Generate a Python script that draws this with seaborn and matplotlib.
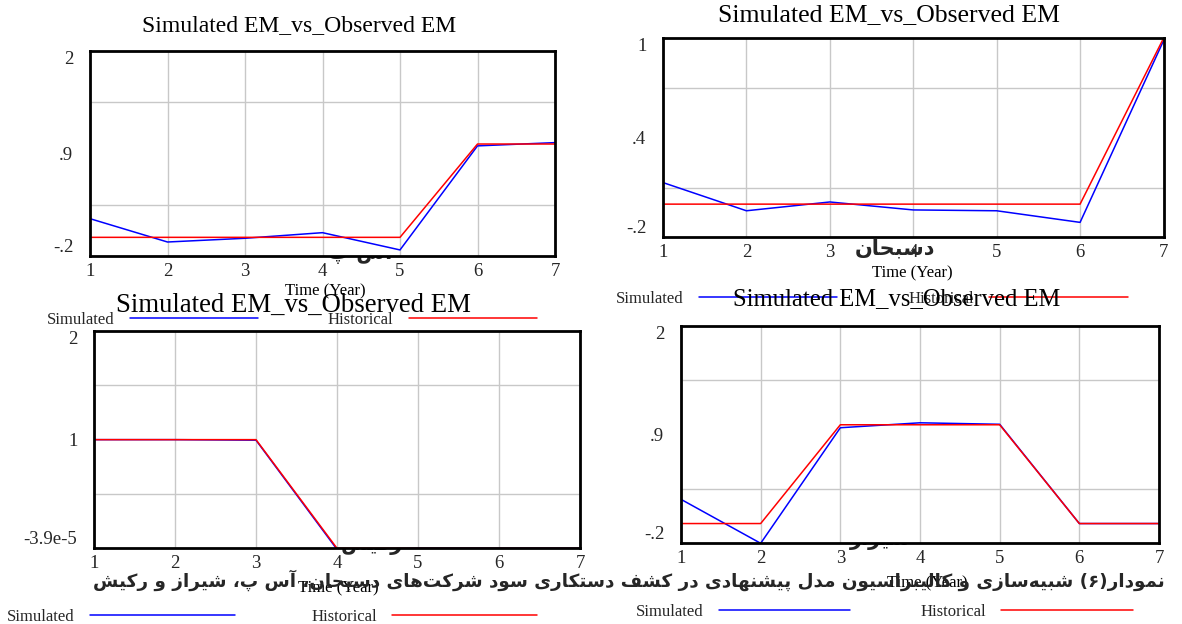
import matplotlib
matplotlib.use("Agg")
import matplotlib.pyplot as plt
import seaborn as sns
import pandas as pd

sns.set_theme(style="white")
plt.rcParams['font.family'] = ['Liberation Serif', 'DejaVu Sans']

# ---------------- data ----------------
years = [1, 2, 3, 4, 5, 6, 7]
tl_sim = [0.20, -0.05, -0.01, 0.05, -0.135, 0.98, 1.015]
tl_hist = [0.0, 0.0, 0.0, 0.0, 0.0, 1.0, 1.0]
tr_sim = [0.13, -0.04, 0.013, -0.035, -0.04, -0.11, 0.985]
tr_hist = [0.0, 0.0, 0.0, 0.0, 0.0, 0.0, 1.0]
bl_sim = [1.0, 1.0, 0.995, -0.01, 0.0, 0.0, 0.0]
bl_hist = [1.0, 1.0, 1.0, 0.0, 0.0, 0.0, 0.0]
br_sim = [0.245, -0.2, 0.97, 1.02, 1.005, 0.0, 0.0]
br_hist = [0.0, 0.0, 1.0, 1.0, 1.0, 0.0, 0.0]

tl_yticks = [-0.2, 0.9, 2.0]
tl_ylabels = ["-.2", ".9", "2"]
tr_yticks = [-0.2, 0.4, 1.0]
tr_ylabels = ["-.2", ".4", "1"]
bl_yticks = [-3.9e-5, 1.0, 2.0]
bl_ylabels = ["-3.9e-5", "1", "2"]
br_yticks = [-0.2, 0.9, 2.0]
br_ylabels = ["-.2", ".9", "2"]

title_text = "Simulated EM_vs_Observed EM"
xlabel_text = "Time (Year)"
series_names = ["Simulated", "Historical"]
caption = "نمودار(۶) شبیه\u200cسازی و کالیبراسیون مدل پیشنهادی در کشف دستکاری سود شرکت\u200cهای دسبحان، آس پ، شیراز و رکیش"
company_tr = "دسبحان"
company_tl = "آس پ"
company_bl = "رکیش"
company_br = "شیراز"

# ---------------- minimal Arabic/Persian shaping ----------------
FORMS = {
    'ا': (0xFE8D, 0xFE8E, None, None), 'آ': (0xFE81, 0xFE82, None, None),
    'ب': (0xFE8F, 0xFE90, 0xFE91, 0xFE92), 'پ': (0xFB56, 0xFB57, 0xFB58, 0xFB59),
    'ت': (0xFE95, 0xFE96, 0xFE97, 0xFE98), 'ث': (0xFE99, 0xFE9A, 0xFE9B, 0xFE9C),
    'ج': (0xFE9D, 0xFE9E, 0xFE9F, 0xFEA0), 'چ': (0xFB7A, 0xFB7B, 0xFB7C, 0xFB7D),
    'ح': (0xFEA1, 0xFEA2, 0xFEA3, 0xFEA4), 'خ': (0xFEA5, 0xFEA6, 0xFEA7, 0xFEA8),
    'د': (0xFEA9, 0xFEAA, None, None), 'ذ': (0xFEAB, 0xFEAC, None, None),
    'ر': (0xFEAD, 0xFEAE, None, None), 'ز': (0xFEAF, 0xFEB0, None, None),
    'ژ': (0xFB8A, 0xFB8B, None, None),
    'س': (0xFEB1, 0xFEB2, 0xFEB3, 0xFEB4), 'ش': (0xFEB5, 0xFEB6, 0xFEB7, 0xFEB8),
    'ص': (0xFEB9, 0xFEBA, 0xFEBB, 0xFEBC), 'ض': (0xFEBD, 0xFEBE, 0xFEBF, 0xFEC0),
    'ط': (0xFEC1, 0xFEC2, 0xFEC3, 0xFEC4), 'ظ': (0xFEC5, 0xFEC6, 0xFEC7, 0xFEC8),
    'ع': (0xFEC9, 0xFECA, 0xFECB, 0xFECC), 'غ': (0xFECD, 0xFECE, 0xFECF, 0xFED0),
    'ف': (0xFED1, 0xFED2, 0xFED3, 0xFED4), 'ق': (0xFED5, 0xFED6, 0xFED7, 0xFED8),
    'ک': (0xFB8E, 0xFB8F, 0xFB90, 0xFB91), 'گ': (0xFB92, 0xFB93, 0xFB94, 0xFB95),
    'ل': (0xFEDD, 0xFEDE, 0xFEDF, 0xFEE0), 'م': (0xFEE1, 0xFEE2, 0xFEE3, 0xFEE4),
    'ن': (0xFEE5, 0xFEE6, 0xFEE7, 0xFEE8), 'ه': (0xFEE9, 0xFEEA, 0xFEEB, 0xFEEC),
    'و': (0xFEED, 0xFEEE, None, None), 'ی': (0xFBFC, 0xFBFD, 0xFBFE, 0xFBFF),
}
MIRROR = {'(': ')', ')': '('}


def shape(text):
    out = []
    n = len(text)
    for i, c in enumerate(text):
        if c not in FORMS:
            if c != '\u200c':
                out.append(MIRROR.get(c, c))
            continue
        prev = text[i - 1] if i > 0 else None
        nxt = text[i + 1] if i + 1 < n else None
        jp = prev in FORMS and FORMS[prev][2] is not None
        jn = FORMS[c][2] is not None and nxt in FORMS
        iso, fin, ini, med = FORMS[c]
        if jp and jn:
            g = med
        elif jp:
            g = fin
        elif jn:
            g = ini
        else:
            g = iso
        out.append(chr(g))
    return ''.join(reversed(out))


# ---------------- figure ----------------
W, H = 1182, 624
fig = plt.figure(figsize=(W / 100, H / 100), dpi=100)


def fx(x):
    return x / W


def fy(y):
    return 1 - y / H


def make_axes(box, sim, hist, yticks, ylabels, title_c, title_fs, xlab_c, leg):
    x0, y0, x1, y1 = box
    ax = fig.add_axes([fx(x0), fy(y1), (x1 - x0) / W, (y1 - y0) / H])
    ax.set_facecolor('white')
    df = pd.DataFrame({'year': years, 'sim': sim, 'hist': hist})
    sns.lineplot(data=df, x='year', y='sim', color='#0000ff', lw=1.1,
                 label=series_names[0], ax=ax)
    sns.lineplot(data=df, x='year', y='hist', color='#ff0000', lw=1.1,
                 label=series_names[1], ax=ax)
    lo, mid, hi = yticks
    ax.set_xlim(1, 7)
    ax.set_ylim(lo, hi)
    ax.set_xticks(years)
    ax.set_xticklabels([str(v) for v in years], fontsize=13.5)
    ax.set_yticks(yticks)
    ax.set_yticklabels(ylabels, fontsize=13.5)
    q = (hi - lo) / 4
    ax.set_yticks([lo + q, lo + 2 * q, lo + 3 * q], minor=True)
    ax.grid(False)
    ax.grid(True, axis='x', which='major', color='#c8c8c8', lw=1.0)
    ax.grid(True, axis='y', which='minor', color='#c8c8c8', lw=1.0)
    ax.tick_params(axis='both', which='both', length=0)
    ax.tick_params(axis='y', pad=12)
    ax.tick_params(axis='x', pad=5)
    tl = ax.get_yticklabels()
    tl[0].set_va('bottom')
    tl[2].set_va('top')
    for s in ax.spines.values():
        s.set_visible(True)
        s.set_color('black')
        s.set_linewidth(2.0)
    ax.set_xlabel('')
    ax.set_ylabel('')
    fig.text(fx(title_c[0]), fy(title_c[1]), title_text, ha='center', va='center',
             fontsize=title_fs, color='black')
    fig.text(fx(xlab_c[0]), fy(xlab_c[1]), xlabel_text, ha='center', va='center',
             fontsize=12, color='black')
    lx, ly, hl, cs = leg
    ax.legend(loc='center left', bbox_to_anchor=(fx(lx), fy(ly)),
              bbox_transform=fig.transFigure, ncol=2, markerfirst=False,
              frameon=False, fontsize=12, handlelength=hl, handletextpad=0.9,
              columnspacing=cs, borderpad=0, borderaxespad=0)
    return ax


# hidden company names behind the axes
kw = dict(ha='center', va='center', fontsize=15, fontweight='bold',
          family=['DejaVu Sans'], zorder=-5)
fig.text(fx(360), fy(252), shape(company_tl), **kw)
fig.text(fx(372), fy(545), shape(company_bl), **kw)
fig.text(fx(880), fy(540), shape(company_br), **kw)

make_axes((90, 50.7, 555, 256), tl_sim, tl_hist, tl_yticks, tl_ylabels,
          (299, 26), 17, (325, 291), (47, 320, 7.7, 4.2))
make_axes((663, 38.3, 1163.5, 237.3), tr_sim, tr_hist, tr_yticks, tr_ylabels,
          (889, 15), 18.5, (912, 273), (616, 299, 8.3, 4.3))
make_axes((94, 331, 580, 548.3), bl_sim, bl_hist, bl_yticks, bl_ylabels,
          (293, 305), 19.3, (338, 588), (7, 617, 8.7, 4.6))
make_axes((681, 326, 1159, 543.3), br_sim, br_hist, br_yticks, br_ylabels,
          (897, 299), 17.7, (927, 583), (636, 612, 7.9, 4.2))

fig.text(fx(895), fy(248), shape(company_tr), ha='center', va='center',
         fontsize=15, fontweight='bold', family=['DejaVu Sans'])
cap = fig.text(fx(1165), fy(580), shape(caption), ha='right', va='center',
               fontsize=15, fontweight='bold', family=['DejaVu Sans'])
# fit caption to the reference width (88 .. 1165 px)
renderer = fig.canvas.get_renderer()
wpx = cap.get_window_extent(renderer).width
cap.set_fontsize(15 * 1077 / wpx)

fig.savefig('out.png', dpi=100, facecolor='white')
